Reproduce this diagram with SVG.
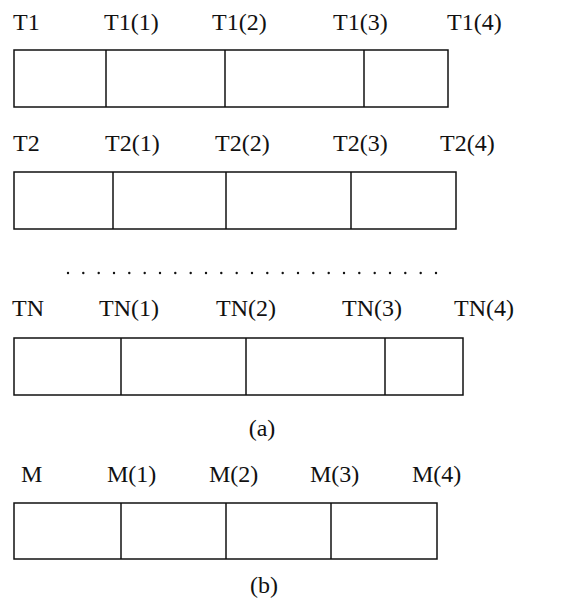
<svg xmlns="http://www.w3.org/2000/svg" width="588" height="610" viewBox="0 0 588 610">
<style>
.lbl{font-family:"Liberation Serif","Times New Roman",serif;font-size:24px;fill:#111}
.box{fill:#fff;stroke:#111;stroke-width:1.5}
.div{stroke:#111;stroke-width:1.5}
.dot{fill:#111}
</style>
<rect width="588" height="610" fill="#fff"/>
<g id="row-T1">
<text class="lbl" x="13" y="30">T1</text>
<text class="lbl" x="104" y="30">T1(1)</text>
<text class="lbl" x="212" y="30">T1(2)</text>
<text class="lbl" x="333" y="30">T1(3)</text>
<text class="lbl" x="447" y="30">T1(4)</text>
<rect class="box" x="14" y="50" width="434" height="57"/>
<line class="div" x1="106" y1="50" x2="106" y2="107"/>
<line class="div" x1="225" y1="50" x2="225" y2="107"/>
<line class="div" x1="364" y1="50" x2="364" y2="107"/>
</g>
<g id="row-T2">
<text class="lbl" x="13" y="151">T2</text>
<text class="lbl" x="105" y="151">T2(1)</text>
<text class="lbl" x="215" y="151">T2(2)</text>
<text class="lbl" x="333" y="151">T2(3)</text>
<text class="lbl" x="440" y="151">T2(4)</text>
<rect class="box" x="14" y="172" width="442" height="57"/>
<line class="div" x1="113" y1="172" x2="113" y2="229"/>
<line class="div" x1="226" y1="172" x2="226" y2="229"/>
<line class="div" x1="351" y1="172" x2="351" y2="229"/>
</g>
<g id="ellipsis">
<circle class="dot" cx="68" cy="273" r="1.2"/>
<circle class="dot" cx="83.3" cy="273" r="1.2"/>
<circle class="dot" cx="98.7" cy="273" r="1.2"/>
<circle class="dot" cx="114" cy="273" r="1.2"/>
<circle class="dot" cx="129.3" cy="273" r="1.2"/>
<circle class="dot" cx="144.7" cy="273" r="1.2"/>
<circle class="dot" cx="160" cy="273" r="1.2"/>
<circle class="dot" cx="175.3" cy="273" r="1.2"/>
<circle class="dot" cx="190.7" cy="273" r="1.2"/>
<circle class="dot" cx="206" cy="273" r="1.2"/>
<circle class="dot" cx="221.3" cy="273" r="1.2"/>
<circle class="dot" cx="236.7" cy="273" r="1.2"/>
<circle class="dot" cx="252" cy="273" r="1.2"/>
<circle class="dot" cx="267.3" cy="273" r="1.2"/>
<circle class="dot" cx="282.7" cy="273" r="1.2"/>
<circle class="dot" cx="298" cy="273" r="1.2"/>
<circle class="dot" cx="313.3" cy="273" r="1.2"/>
<circle class="dot" cx="328.7" cy="273" r="1.2"/>
<circle class="dot" cx="344" cy="273" r="1.2"/>
<circle class="dot" cx="359.3" cy="273" r="1.2"/>
<circle class="dot" cx="374.7" cy="273" r="1.2"/>
<circle class="dot" cx="390" cy="273" r="1.2"/>
<circle class="dot" cx="405.3" cy="273" r="1.2"/>
<circle class="dot" cx="420.7" cy="273" r="1.2"/>
<circle class="dot" cx="436" cy="273" r="1.2"/>
</g>
<g id="row-TN">
<text class="lbl" x="12" y="316">TN</text>
<text class="lbl" x="99" y="316">TN(1)</text>
<text class="lbl" x="216" y="316">TN(2)</text>
<text class="lbl" x="342" y="316">TN(3)</text>
<text class="lbl" x="454" y="316">TN(4)</text>
<rect class="box" x="14" y="338" width="449" height="57"/>
<line class="div" x1="121" y1="338" x2="121" y2="395"/>
<line class="div" x1="246" y1="338" x2="246" y2="395"/>
<line class="div" x1="385" y1="338" x2="385" y2="395"/>
</g>
<g id="caption-a">
<text class="lbl" x="262" y="436" text-anchor="middle">(a)</text>
</g>
<g id="row-M">
<text class="lbl" x="21" y="482">M</text>
<text class="lbl" x="107" y="482">M(1)</text>
<text class="lbl" x="209" y="482">M(2)</text>
<text class="lbl" x="310" y="482">M(3)</text>
<text class="lbl" x="412" y="482">M(4)</text>
<rect class="box" x="14" y="503" width="423" height="56"/>
<line class="div" x1="121" y1="503" x2="121" y2="559"/>
<line class="div" x1="226" y1="503" x2="226" y2="559"/>
<line class="div" x1="331" y1="503" x2="331" y2="559"/>
</g>
<g id="caption-b">
<text class="lbl" x="264" y="593" text-anchor="middle">(b)</text>
</g>
<g id="connectors"></g>
</svg>
